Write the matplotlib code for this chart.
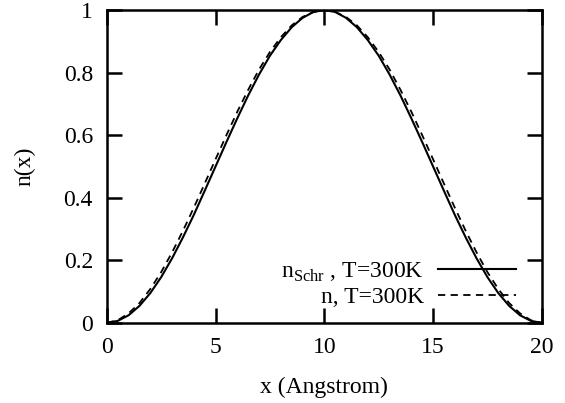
import numpy as np
import matplotlib
matplotlib.use("Agg")
import matplotlib.pyplot as plt
from matplotlib.ticker import FuncFormatter

plt.rcParams["font.family"] = ["Liberation Serif", "DejaVu Serif"]
plt.rcParams["mathtext.fontset"] = "custom"
plt.rcParams["mathtext.rm"] = "Liberation Serif"

# positions (Angstrom) and densities
x = [0, 0.5, 1, 1.5, 2, 2.5, 3, 3.5, 4, 4.5, 5, 5.5, 6, 6.5, 7, 7.5, 8, 8.5, 9, 9.5, 10,
     10.5, 11, 11.5, 12, 12.5, 13, 13.5, 14, 14.5, 15, 15.5, 16, 16.5, 17, 17.5, 18, 18.5,
     19, 19.5, 20]
n_schr_left = [0, 0.006, 0.024, 0.054, 0.095, 0.146, 0.206, 0.273, 0.345, 0.422, 0.5,
               0.578, 0.654, 0.727, 0.794, 0.854, 0.904, 0.945, 0.975, 0.994, 1.0]
n_left = [0, 0.008, 0.030, 0.063, 0.108, 0.162, 0.225, 0.294, 0.368, 0.445, 0.523,
          0.600, 0.675, 0.745, 0.810, 0.866, 0.913, 0.951, 0.978, 0.994, 1.0]
n_schr = n_schr_left + n_schr_left[-2::-1]
n_300 = n_left + n_left[-2::-1]

labels = [r"n$_{\rm Schr}$ , T=300K", "n, T=300K"]

fs = 17

fig = plt.figure(figsize=(5.65, 4.03), dpi=100)
ax = fig.add_axes([0.189, 0.199, 0.770, 0.776])

ax.plot(x, n_schr, color="black", lw=1.5, label=labels[0])
ax.plot(x, n_300, color="black", lw=1.3, ls=(0, (4, 3)), label=labels[1])

ax.set_xlim(0, 20)
ax.set_ylim(0, 1)
ax.set_xticks([0, 5, 10, 15, 20])
ax.set_yticks([0, 0.2, 0.4, 0.6, 0.8, 1.0])
ax.yaxis.set_major_formatter(FuncFormatter(lambda v, p: "%g" % v))
ax.tick_params(direction="in", length=11, width=1.8, top=True, right=True,
               labelsize=fs, pad=10)
for s in ax.spines.values():
    s.set_linewidth(1.8)

ax.set_xlabel("x (Angstrom)", fontsize=fs, labelpad=14)
ax.set_ylabel("n(x)", fontsize=fs, labelpad=20)

ax.legend(loc="lower right", bbox_to_anchor=(0.94, 0.048), frameon=False,
          markerfirst=False, fontsize=fs, handlelength=3.3, handletextpad=0.6,
          labelspacing=0.1, borderpad=0, borderaxespad=0)

fig.savefig("out.png", dpi=100)
